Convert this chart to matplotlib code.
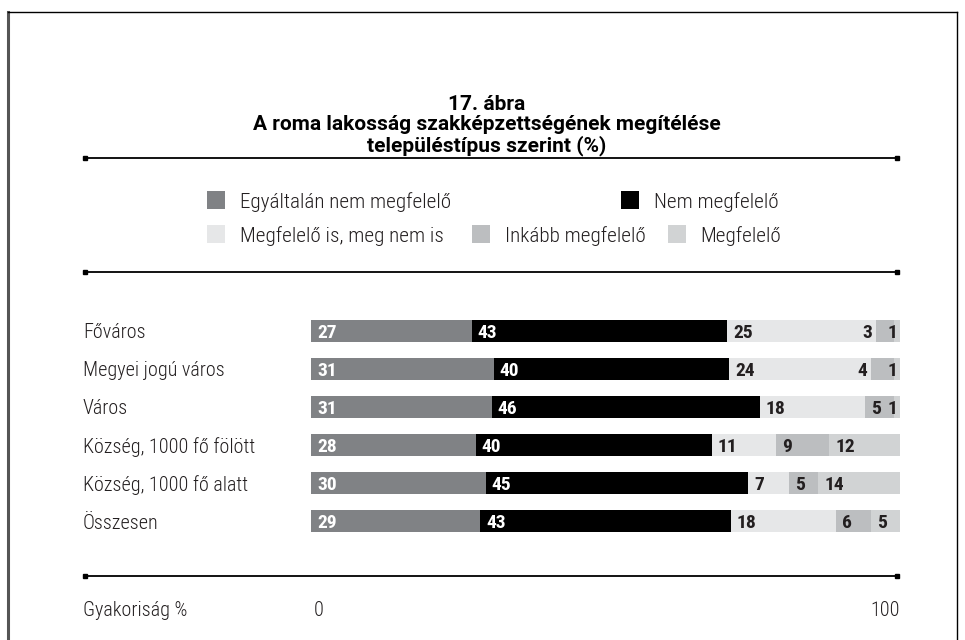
import numpy as np
import matplotlib.pyplot as plt
from matplotlib import font_manager
from matplotlib.lines import Line2D
from matplotlib.patches import Rectangle
import matplotlib.transforms as mtransforms

# adatok (a kép feliratairól leolvasva)
categories = ["Főváros", "Megyei jogú város", "Város",
              "Község, 1000 fő fölött", "Község, 1000 fő alatt", "Összesen"]
series_names = ["Egyáltalán nem megfelelő", "Nem megfelelő",
                "Megfelelő is, meg nem is", "Inkább megfelelő", "Megfelelő"]
egyaltalan_nem = [27, 31, 31, 28, 30, 29]
nem_megfelelo = [43, 40, 46, 40, 45, 43]
kozepes = [25, 24, 18, 11, 7, 18]
inkabb = [3, 4, 5, 9, 5, 6]
megfelelo = [1, 1, 1, 12, 14, 5]

colors = ["#808285", "#000000", "#e6e7e8", "#bcbec0", "#d1d3d4"]
label_colors = ["white", "white", "#231f20", "#231f20", "#231f20"]
txt = "#231f20"


def pick_font(names):
    for n in names:
        try:
            font_manager.findfont(font_manager.FontProperties(family=n),
                                  fallback_to_default=False)
            return n
        except ValueError:
            pass
    return "DejaVu Sans"


FONT = pick_font(["Roboto Condensed", "Archivo Narrow", "PT Sans Narrow",
                  "Pragati Narrow", "Asap Condensed"])
TITLE_FONT = pick_font(["Roboto", "Archivo Narrow", FONT])
plt.rcParams["font.family"] = [FONT, "DejaVu Sans"]

W, H = 965, 640


def fx(x):
    return x / W


def fy(y):
    return 1 - y / H


fig = plt.figure(figsize=(W / 100, H / 100), dpi=100)

# keret
for xs, ys, c, lw in [([8, 8], [12, 640], "#555555", 2.2),
                      ([8, 957], [12, 12], "black", 1.0),
                      ([957, 957], [12, 640], "black", 1.0)]:
    fig.add_artist(Line2D([fx(x) for x in xs], [fy(y) for y in ys],
                          color=c, lw=lw))

# cím
title = ["17. ábra", "A roma lakosság szakképzettségének megítélése",
         "településtípus szerint (%)"]
for k, t in enumerate(title):
    fig.text(fx(487), fy(103 + 20 * k), t, ha="center", va="center_baseline",
             fontsize=15, fontweight="bold", color="black",
             family=[TITLE_FONT, "DejaVu Sans"])

# vízszintes elválasztók
for y in [158, 272, 576]:
    fig.add_artist(Line2D([fx(85), fx(897)], [fy(y)] * 2, color="black", lw=1.3))
    fig.add_artist(Line2D([fx(85), fx(897)], [fy(y)] * 2, color="black",
                          ls="none", marker="s", markersize=3.5))

# jelmagyarázat
legend_pos = [(207, 200, 240), (621, 200, 654), (207, 234, 240),
              (472, 234, 505), (668, 234, 700)]
sq = 18
for (sx, sy, tx), name, c in zip(legend_pos, series_names, colors):
    fig.add_artist(Rectangle((fx(sx), fy(sy + sq / 2)), sq / W, sq / H,
                             facecolor=c, edgecolor="none",
                             transform=fig.transFigure))
    fig.text(fx(tx), fy(sy), name, ha="left", va="center_baseline",
             fontsize=15.2, fontweight="light", color=txt)

# sávok
ax = fig.add_axes([fx(311), fy(534), (900 - 311) / W, 216 / H])
ax.axis("off")
ax.set_xlim(0, 100)
ax.set_ylim(5.342, -0.342)

data = np.array([egyaltalan_nem, nem_megfelelo, kozepes, inkabb, megfelelo],
                dtype=float)
shares = data / data.sum(axis=0) * 100
y = np.arange(len(categories))
left = np.zeros(len(categories))
last = len(series_names) - 1
for s in range(len(series_names)):
    ax.barh(y, shares[s], left=left, height=0.6, color=colors[s],
            edgecolor="none")
    for i in range(len(categories)):
        lx, ha = left[i] + 1.0, "left"
        if shares[s, i] < 4.5:
            # keskeny szelet: a felirat a szelet elé / a sáv végére kerül
            lx, ha = (99.6, "right") if s == last else (left[i] - 0.6, "right")
        ax.text(lx, y[i], str(int(data[s, i])), ha=ha, va="center_baseline",
                fontsize=14, fontweight="bold", color=label_colors[s])
    left += shares[s]

lab_tr = mtransforms.blended_transform_factory(fig.transFigure, ax.transData)
for i, cat in enumerate(categories):
    ax.text(fx(83), y[i], cat, transform=lab_tr, ha="left",
            va="center_baseline", fontsize=14.5, fontweight="light", color=txt)

# tengely feliratok
bot_tr = mtransforms.blended_transform_factory(ax.transData, fig.transFigure)
fig.text(fx(83), fy(608), "Gyakoriság %", ha="left", va="center_baseline",
         fontsize=14.5, fontweight="light", color=txt)
ax.text(0.4, fy(608), "0", transform=bot_tr, ha="left", va="center_baseline",
        fontsize=14.5, fontweight="light", color=txt)
ax.text(100, fy(608), "100", transform=bot_tr, ha="right",
        va="center_baseline", fontsize=14.5, fontweight="light", color=txt)

fig.savefig("out.png", dpi=100)
